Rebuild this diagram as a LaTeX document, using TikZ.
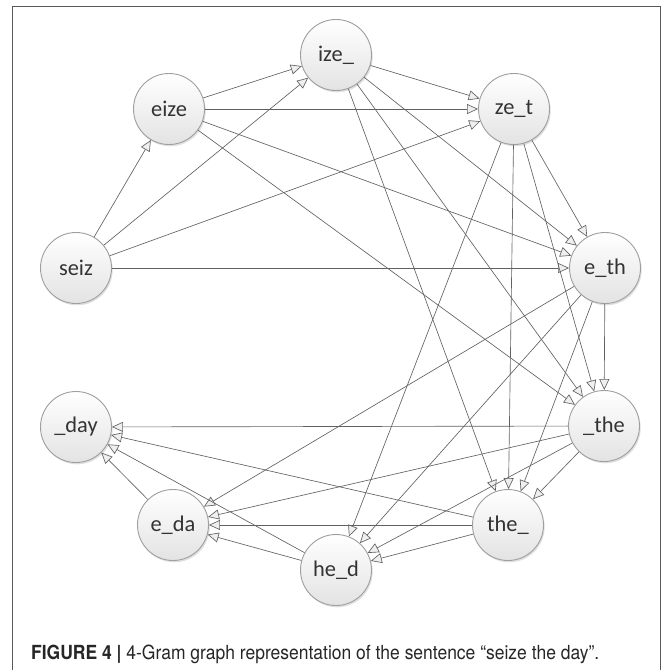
\documentclass[tikz,border=0pt]{standalone}
\usepackage{fontspec}
\setmainfont{TeX Gyre Heros}
\newfontfamily\capfont[FakeStretch=0.9]{TeX Gyre Heros}
\newfontfamily\nodefont{Carlito}
\usetikzlibrary{arrows.meta,shadows}

\begin{document}
\begin{tikzpicture}[x=1bp,y=-1bp,
    gram/.style={circle,draw=gray!75,line width=0.9bp,minimum size=71bp,inner sep=0pt,
      top color=white,bottom color=gray!22,text=black!80,font=\nodefont\fontsize{22.5}{24}\selectfont,
      drop shadow={shadow xshift=1.2bp,shadow yshift=-1.8bp,opacity=0.25}},
    link/.style={draw=black!62,line width=0.65bp,-{Triangle[length=11bp,width=10bp,fill=blue!4!gray!12]}}]
            \useasboundingbox (0,0) rectangle (670,670);
            \draw[black!65,line width=1bp] (12,680) -- (12,7) -- (660,7) -- (660,680);

            % nodes, clockwise from the top
            \node[gram] (ize)  at (336,55)  {ize\_};
            \node[gram] (zet)  at (514,109) {ze\_t};
            \node[gram] (eth)  at (605,268) {e\_th};
            \node[gram] (uthe) at (604,426) {\_the};
            \node[gram] (theu) at (508,525) {the\_};
            \node[gram] (hed)  at (336,570) {he\_d};
            \node[gram] (eda)  at (173,525) {e\_da};
            \node[gram] (uday) at (76,427)  {\_day};
            \node[gram] (seiz) at (76,268)  {seiz};
            \node[gram] (eize) at (169,109) {eize};

            % edges
            \draw[link] (seiz) -- (eize);
            \draw[link] (seiz) -- (ize);
            \draw[link] (seiz) -- (zet);
            \draw[link] (seiz) -- (eth);
            \draw[link] (eize) -- (ize);
            \draw[link] (eize) -- (zet);
            \draw[link] (eize) -- (eth);
            \draw[link] (eize) -- (uthe);
            \draw[link] (ize) -- (zet);
            \draw[link] (ize) -- (eth);
            \draw[link] (ize) -- (uthe);
            \draw[link] (ize) -- (theu);
            \draw[link] (zet) -- (eth);
            \draw[link] (zet) -- (uthe);
            \draw[link] (zet) -- (theu);
            \draw[link] (zet) -- (hed);
            \draw[link] (eth) -- (uthe);
            \draw[link] (eth) -- (theu);
            \draw[link] (eth) -- (hed);
            \draw[link] (eth) -- (eda);
            \draw[link] (uthe) -- (theu);
            \draw[link] (uthe) -- (hed);
            \draw[link] (uthe) -- (eda);
            \draw[link] (uthe) -- (uday);
            \draw[link] (theu) -- (hed);
            \draw[link] (theu) -- (eda);
            \draw[link] (theu) -- (uday);
            \draw[link] (hed) -- (eda);
            \draw[link] (hed) -- (uday);
            \draw[link] (eda) -- (uday);

            \node[anchor=base west,inner sep=0pt,text=black!85,font=\capfont\fontsize{19.5}{22}\selectfont] (caption) at (31,659)
                {\textbf{FIGURE 4 |} 4-Gram graph representation of the sentence “seize the day”.};
        \end{tikzpicture}
\end{document}
